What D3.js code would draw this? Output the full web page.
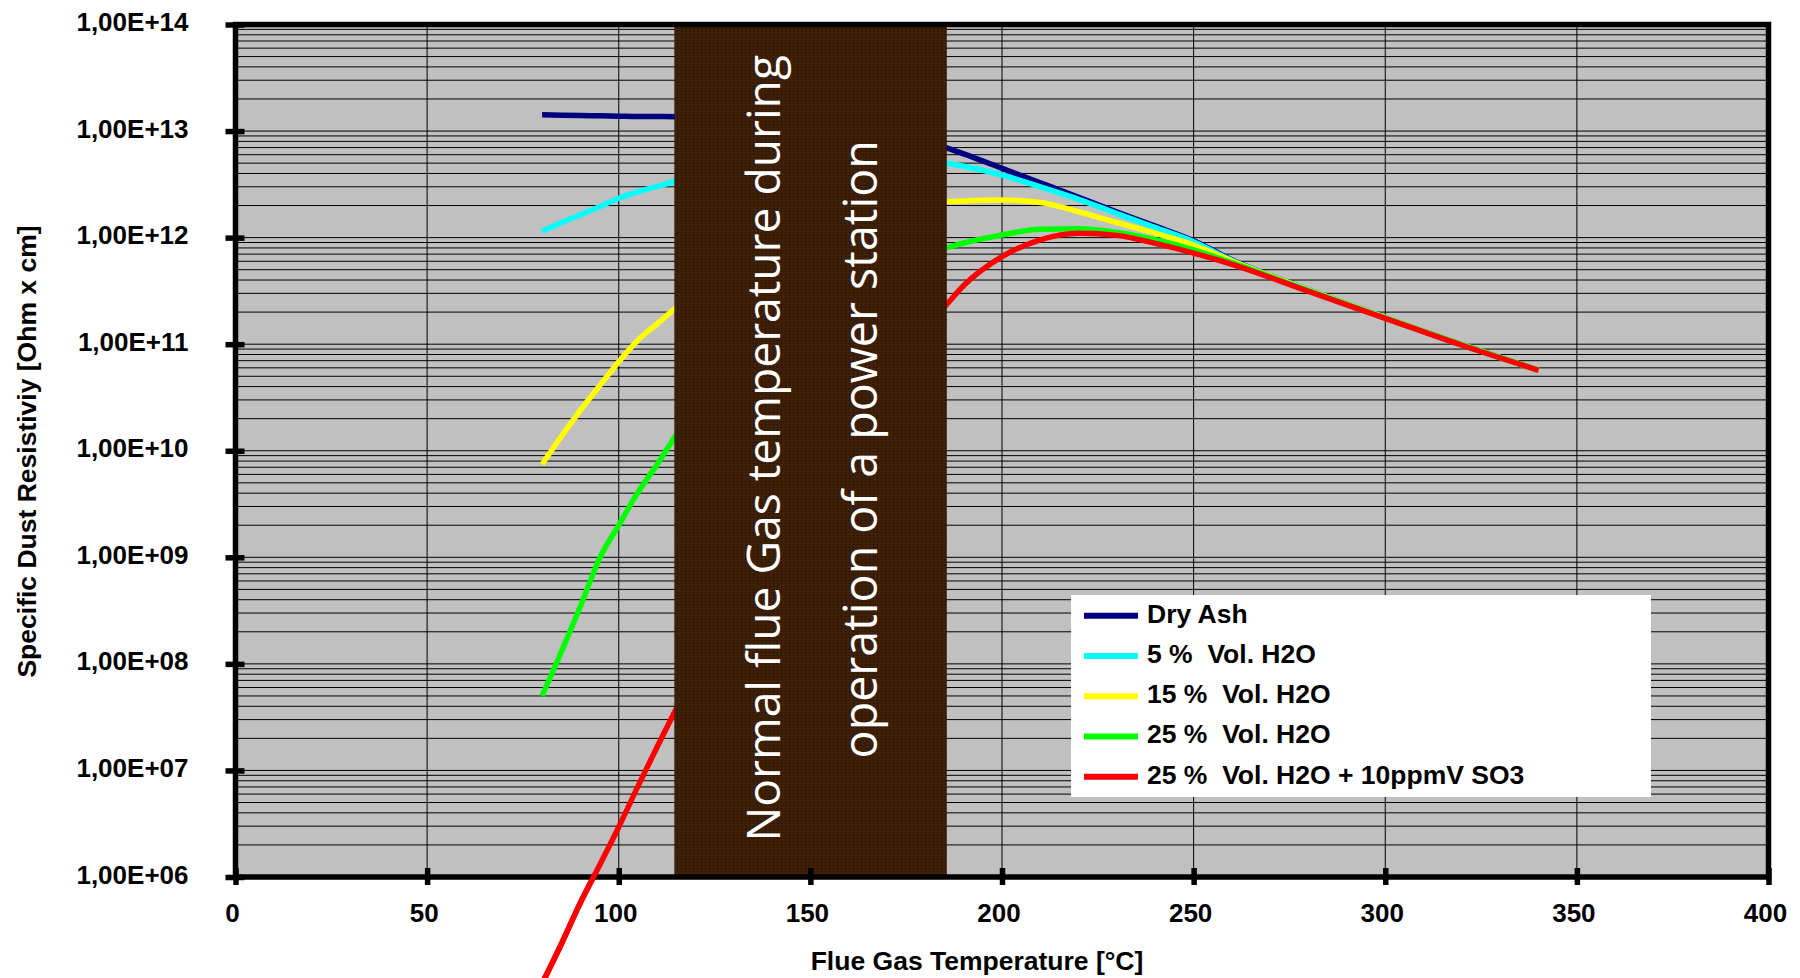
<!DOCTYPE html>
<html><head><meta charset="utf-8">
<script src="https://cdn.jsdelivr.net/npm/d3@7"></script>
<style>
body{margin:0;background:#fff;}
svg{display:block;}
</style>
</head><body>
<svg id="chart" width="1800" height="978"></svg>
<script>
// ---------------- data ----------------
const temps    = [80, 85, 90, 95, 100, 105, 110, 115, 130, 150, 170, 185, 190, 200, 210, 220, 230, 240, 250, 260, 280, 300, 320, 340];
const dryAsh   = [1.42e13,1.41e13,1.40e13,1.39e13,1.38e13,1.37e13,1.37e13,1.365e13,1.32e13,1.20e13,9.55e12,7.08e12,6.10e12,4.47e12,3.27e12,2.39e12,1.74e12,1.28e12,9.35e11,6.17e11,3.24e11,1.78e11,9.89e10,5.69e10];
const h2o5     = [1.15e12,1.38e12,1.64e12,1.95e12,2.34e12,2.69e12,3.02e12,3.40e12,4.47e12,5.50e12,5.75e12,5.01e12,4.68e12,3.87e12,2.99e12,2.29e12,1.68e12,1.24e12,9.16e11,6.10e11,3.24e11,1.78e11,9.89e10,5.69e10];
const h2o15    = [7.46e9,1.36e10,2.40e10,4.07e10,6.85e10,1.09e11,1.55e11,2.22e11,5.62e11,1.26e12,2.00e12,2.17e12,2.21e12,2.25e12,2.14e12,1.75e12,1.38e12,1.10e12,8.53e11,6.03e11,3.22e11,1.78e11,9.89e10,5.69e10];
const h2o25    = [5.01e7,1.29e8,3.47e8,9.77e8,2.00e9,4.07e9,7.41e9,1.41e10,7.94e10,3.16e11,6.31e11,7.94e11,8.91e11,1.06e12,1.20e12,1.21e12,1.12e12,9.55e11,7.66e11,5.82e11,3.18e11,1.76e11,9.85e10,5.69e10];
const h2o25so3 = [1.0e5,2.34e5,5.75e5,1.29e6,2.95e6,7.08e6,1.66e7,3.80e7,5.01e8,1.0e10,7.94e10,2.24e11,3.55e11,6.62e11,9.55e11,1.10e12,1.05e12,8.82e11,7.16e11,5.62e11,3.13e11,1.75e11,9.77e10,5.69e10];

const seriesNames  = ["Dry Ash", "5 %  Vol. H2O", "15 %  Vol. H2O", "25 %  Vol. H2O", "25 %  Vol. H2O + 10ppmV SO3"];
const seriesValues = [dryAsh, h2o5, h2o15, h2o25, h2o25so3];
const seriesColors = ["#000080", "#00FFFF", "#FFFF00", "#00FF00", "#FF0000"];

const xTickValues = [0, 50, 100, 150, 200, 250, 300, 350, 400];
const yTickValues = [1e6, 1e7, 1e8, 1e9, 1e10, 1e11, 1e12, 1e13, 1e14];
const yTickLabels = ["1,00E+06","1,00E+07","1,00E+08","1,00E+09","1,00E+10","1,00E+11","1,00E+12","1,00E+13","1,00E+14"];

const bandRange = [114.5, 185.6];
const bandText  = ["Normal flue Gas temperature during", "operation of a power station"];
const xTitle = "Flue Gas Temperature [°C]";
const yTitle = "Specific Dust Resistiviy [Ohm x cm]";

// ---------------- layout ----------------
const L = 235.5, R = 1768.5, T = 24.5, B = 877;
const FONT = "'Liberation Sans', Arial, sans-serif";
const svg = d3.select("#chart");
const x = d3.scaleLinear().domain([0, 400]).range([L, R]);
const y = d3.scaleLog().domain([1e6, 1e14]).range([B, T]);

// plot background
svg.append("rect").attr("x", L).attr("y", T).attr("width", R - L).attr("height", B - T).attr("fill", "#C0C0C0");

// horizontal minor + major gridlines
const gridVals = [];
for (let e = 6; e < 14; e++) for (let k = 1; k <= 9; k++) gridVals.push(k * Math.pow(10, e));
svg.append("g").selectAll("line").data(gridVals.filter(v => v > 1e6)).join("line")
  .attr("x1", L).attr("x2", R)
  .attr("y1", d => y(d)).attr("y2", d => y(d))
  .attr("stroke", "#000").attr("stroke-width", 1);

// vertical gridlines
svg.append("g").selectAll("line").data(xTickValues.filter(v => v > 0 && v < 400)).join("line")
  .attr("x1", d => x(d)).attr("x2", d => x(d))
  .attr("y1", T).attr("y2", B)
  .attr("stroke", "#000").attr("stroke-width", 1);

// series lines
const line = d3.line().x((d, i) => x(temps[i])).y(d => y(d)).curve(d3.curveMonotoneX);
const gLines = svg.append("g");
seriesValues.forEach((vals, s) => {
  gLines.append("path").datum(vals).attr("d", line)
    .attr("fill", "none").attr("stroke", seriesColors[s]).attr("stroke-width", 5.5)
    .attr("stroke-linejoin", "round").attr("stroke-linecap", "butt");
});

// band
const defs = svg.append("defs");
const pat = defs.append("pattern").attr("id", "dots").attr("patternUnits", "userSpaceOnUse").attr("width", 4).attr("height", 3);
pat.append("rect").attr("width", 4).attr("height", 3).attr("fill", "#3E1F08");
pat.append("rect").attr("x", 1).attr("y", 1).attr("width", 1).attr("height", 1).attr("fill", "#1a0c02");
svg.append("rect").attr("x", x(bandRange[0])).attr("y", T).attr("width", x(bandRange[1]) - x(bandRange[0])).attr("height", B - T)
  .attr("fill", "url(#dots)");

const bandPos = [[780, 448.3, 786.7], [876.7, 449.3, 618.3]];
bandText.forEach((t, i) => {
  const tx = svg.append("text")
    .attr("transform", `translate(${bandPos[i][0]},${bandPos[i][1]}) rotate(-90)`)
    .attr("text-anchor", "middle").attr("fill", "#fff")
    .style("font-family", "'Open Sans', 'Noto Sans', sans-serif").style("font-size", "52px")
    .text(t);
  const len = tx.node().getComputedTextLength();
  tx.style("font-size", (52 * bandPos[i][2] / len).toFixed(2) + "px");
});

// axes / border
const frame = svg.append("g");
frame.append("rect").attr("x", L).attr("y", T).attr("width", R - L).attr("height", B - T)
  .attr("fill", "none").attr("stroke", "#000").attr("stroke-width", 5.5);

const yAxis = svg.append("g").attr("transform", `translate(${L},0)`)
  .call(d3.axisLeft(y).tickValues(yTickValues).tickFormat((d, i) => yTickLabels[i]).tickSizeInner(10).tickSizeOuter(0).tickPadding(0));
yAxis.select(".domain").remove();
yAxis.selectAll(".tick line").attr("x1", 9).attr("stroke", "#000").attr("stroke-width", 5.5);
yAxis.selectAll(".tick text").attr("x", -47).attr("dy", null).attr("y", 6)
  .style("font-family", FONT).style("font-weight", "bold").style("font-size", "26px").attr("fill", "#000");

const xAxis = svg.append("g").attr("transform", `translate(0,${B})`)
  .call(d3.axisBottom(x).tickValues(xTickValues).tickFormat(d3.format("d")).tickSizeInner(8).tickSizeOuter(0).tickPadding(0));
xAxis.select(".domain").remove();
xAxis.selectAll(".tick line").attr("y1", -9).attr("stroke", "#000").attr("stroke-width", 5.5);
xAxis.selectAll(".tick text").attr("x", -3.5).attr("dy", null).attr("y", 45)
  .style("font-family", FONT).style("font-weight", "bold").style("font-size", "26px").attr("fill", "#000");

// red line continues below the plot, over the axis
defs.append("clipPath").attr("id", "below").append("rect").attr("x", 0).attr("y", B - 3).attr("width", 1800).attr("height", 978 - B + 3);
svg.append("path").datum(h2o25so3).attr("d", line).attr("clip-path", "url(#below)")
  .attr("fill", "none").attr("stroke", seriesColors[4]).attr("stroke-width", 5.5);

// axis titles
svg.append("text").attr("x", 977).attr("y", 970).attr("text-anchor", "middle")
  .style("font-family", FONT).style("font-weight", "bold").style("font-size", "26.5px")
  .text(xTitle);
svg.append("text").attr("transform", "translate(36,451.5) rotate(-90)").attr("text-anchor", "middle")
  .style("font-family", FONT).style("font-weight", "bold").style("font-size", "26.5px")
  .text(yTitle);

// legend
const lg = svg.append("g");
lg.append("rect").attr("x", 1071).attr("y", 595).attr("width", 580).attr("height", 202).attr("fill", "#fff");
const rowY = d3.scaleLinear().domain([0, 4]).range([615.7, 776.7]);
seriesNames.forEach((n, i) => {
  lg.append("line").attr("x1", 1084).attr("x2", 1138).attr("y1", rowY(i)).attr("y2", rowY(i))
    .attr("stroke", seriesColors[i]).attr("stroke-width", 6);
  lg.append("text").attr("x", 1147).attr("y", rowY(i) + 7)
    .style("white-space", "pre")
    .style("font-family", FONT).style("font-weight", "bold").style("font-size", "26.5px")
    .text(n);
});
</script>
</body></html>
